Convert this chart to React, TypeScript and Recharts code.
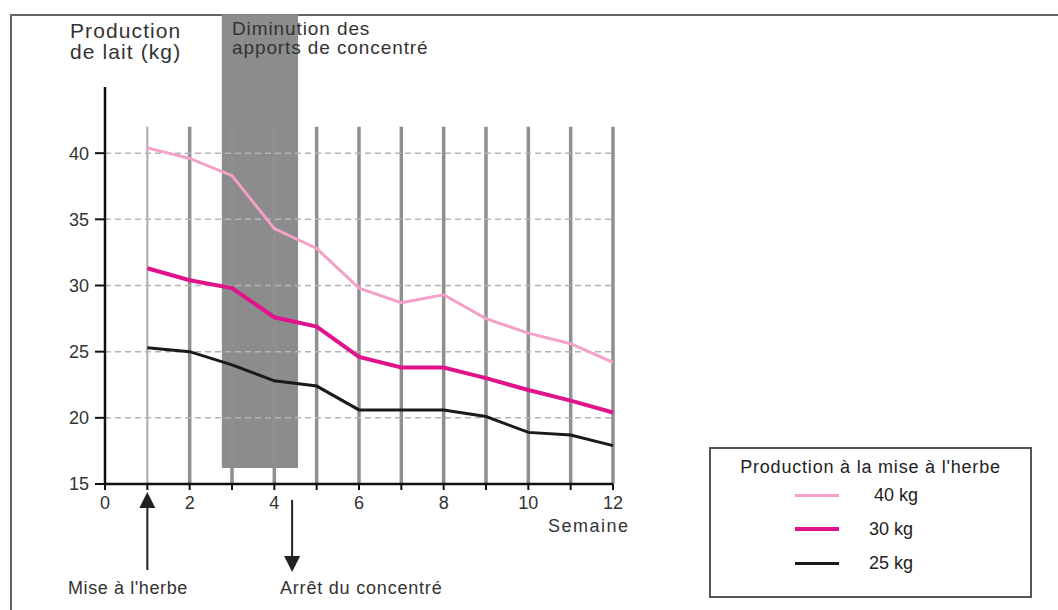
import React from 'react';
import { LineChart, Line, XAxis, YAxis, ReferenceLine, ReferenceArea, Legend } from 'recharts';

// semaines après la mise à l'herbe
const weeks = [1, 2, 3, 4, 5, 6, 7, 8, 9, 10, 11, 12];
const prod40 = [40.4, 39.6, 38.3, 34.3, 32.8, 29.8, 28.7, 29.3, 27.5, 26.4, 25.6, 24.2];
const prod30 = [31.3, 30.4, 29.8, 27.6, 26.9, 24.6, 23.8, 23.8, 23.0, 22.1, 21.3, 20.4];
const prod25 = [25.3, 25.0, 24.0, 22.8, 22.4, 20.6, 20.6, 20.6, 20.1, 18.9, 18.7, 17.9];
const seriesKeys = ['p40', 'p30', 'p25'];

const xTicks = [0, 1, 2, 3, 4, 5, 6, 7, 8, 9, 10, 11, 12];
const yTicks = [15, 20, 25, 30, 35, 40];
const gridY = [20, 25, 30, 35, 40];

// période de diminution du concentré (semaines)
const bandWeeks = [2.76, 4.56];
const bandY = [16.2, 50.5];
const miseHerbeWeek = 1;
const arretWeek = 4.42;

const data = weeks.map((w, i) => ({ week: w, p40: prod40[i], p30: prod30[i], p25: prod25[i] }));

const FONT = '"Liberation Sans", Arial, sans-serif';

function Arrow(props: any) {
  const { x1, y1, x2, y2 } = props;
  const dir = y2 > y1 ? 1 : -1;
  const head = 16;
  return (
    <g>
      <line x1={x1} y1={y1} x2={x2} y2={y2 - dir * head} stroke="#222" strokeWidth={2} />
      <polygon points={`${x2},${y2} ${x2 - 8},${y2 - dir * head} ${x2 + 8},${y2 - dir * head}`} fill="#222" />
    </g>
  );
}

function LegendBox(props: any) {
  const items = [...(props.payload || [])]
    .filter((it: any) => seriesKeys.includes(it.dataKey))
    .sort((a: any, b: any) => seriesKeys.indexOf(a.dataKey) - seriesKeys.indexOf(b.dataKey));
  return (
    <div style={{ width: 323, height: 151, boxSizing: 'border-box', border: '2px solid #555', fontFamily: FONT, color: '#222' }}>
      <div style={{ textAlign: 'center', fontSize: 18, letterSpacing: 0.8, marginTop: 8 }}>Production à la mise à l'herbe</div>
      {items.map((it: any) => (
        <div key={it.dataKey} style={{ display: 'flex', alignItems: 'center', height: 34, marginLeft: 84 }}>
          <div style={{ width: 44, height: it.dataKey === 'p30' ? 4 : 3, background: it.color }} />
          <span style={{ marginLeft: 30, fontSize: 18, whiteSpace: 'pre' }}>{it.value}</span>
        </div>
      ))}
    </div>
  );
}

const txt = (extra: React.CSSProperties): React.CSSProperties => ({
  position: 'absolute', fontFamily: FONT, color: '#333', whiteSpace: 'nowrap', ...extra,
});

export default function App() {
  return (
    <div style={{ position: 'absolute', left: 0, top: 0, width: 1058, height: 610, background: '#fff', overflow: 'hidden' }}>
      <div style={{ position: 'absolute', left: 10, top: 14, width: 1060, height: 610, borderTop: '2px solid #666', borderLeft: '2px solid #666' }} />
      <LineChart width={1058} height={610} data={data} margin={{ top: 87, right: 445, bottom: 96, left: 75 }}>
        <XAxis
          dataKey="week"
          type="number"
          domain={[0, 12]}
          ticks={xTicks}
          interval={0}
          tickFormatter={(v) => (v % 2 === 0 ? String(v) : '')}
          height={30}
          tickSize={6}
          tickMargin={6}
          axisLine={{ stroke: '#111', strokeWidth: 2.5 }}
          tickLine={{ stroke: '#111', strokeWidth: 2 }}
          tick={{ fill: '#333', fontSize: 18, fontFamily: FONT }}
        />
        <YAxis
          type="number"
          domain={[15, 45]}
          ticks={yTicks}
          interval={0}
          width={30}
          tickSize={10}
          tickMargin={6}
          axisLine={{ stroke: '#111', strokeWidth: 2.5 }}
          tickLine={{ stroke: '#111', strokeWidth: 2 }}
          tick={{ fill: '#333', fontSize: 18, fontFamily: FONT }}
        />
        {weeks.map((w) => (
          <ReferenceLine
            key={'v' + w}
            segment={[{ x: w, y: 15 }, { x: w, y: 42 }]}
            stroke={w === 1 ? '#aaa' : '#8f8f8f'}
            strokeWidth={w === 1 ? 2 : 3.5}
          />
        ))}
        <ReferenceArea
          x1={bandWeeks[0]}
          x2={bandWeeks[1]}
          y1={bandY[0]}
          y2={bandY[1]}
          fill="#8c8c8c"
          fillOpacity={1}
          stroke="none"
          ifOverflow="visible"
        />
        <ReferenceLine
          segment={[{ x: miseHerbeWeek, y: 8.5 }, { x: miseHerbeWeek, y: 14.4 }]}
          ifOverflow="visible"
          shape={Arrow}
        />
        <ReferenceLine
          segment={[{ x: arretWeek, y: 13.8 }, { x: arretWeek, y: 8.35 }]}
          ifOverflow="visible"
          shape={Arrow}
        />
        {/* grille horizontale pointillée, au-dessus de la bande grise */}
        {gridY.map((y) => (
          <Line
            key={'h' + y}
            data={[{ week: 0, g: y }, { week: 12, g: y }]}
            dataKey="g"
            type="linear"
            stroke="#b4b4b4"
            strokeWidth={1.5}
            strokeDasharray="6 4"
            dot={false}
            activeDot={false}
            legendType="none"
            isAnimationActive={false}
          />
        ))}
        <Line dataKey="p40" name=" 40 kg" type="linear" stroke="#f4a0c8" strokeWidth={3} dot={false} isAnimationActive={false} />
        <Line dataKey="p30" name="30 kg" type="linear" stroke="#e0138c" strokeWidth={4} dot={false} isAnimationActive={false} />
        <Line dataKey="p25" name="25 kg" type="linear" stroke="#1a1a1a" strokeWidth={3} dot={false} isAnimationActive={false} />
        <Legend
          layout="horizontal"
          verticalAlign="middle"
          align="center"
          content={LegendBox}
          wrapperStyle={{ left: 709, top: 447, width: 323, height: 151 }}
        />
      </LineChart>
      <div style={txt({ left: 70, top: 20, fontSize: 21, letterSpacing: 1.1, lineHeight: '21px' })}>Production<br />de lait (kg)</div>
      <div style={txt({ left: 232, top: 19, fontSize: 19, letterSpacing: 0.9, lineHeight: '19px' })}>Diminution des<br />apports de concentré</div>
      <div style={txt({ left: 548, top: 516, fontSize: 18, letterSpacing: 1.5 })}>Semaine</div>
      <div style={txt({ left: 68, top: 578, fontSize: 18, letterSpacing: 0.6 })}>Mise à l'herbe</div>
      <div style={txt({ left: 280, top: 578, fontSize: 18, letterSpacing: 0.8 })}>Arrêt du concentré</div>
    </div>
  );
}
